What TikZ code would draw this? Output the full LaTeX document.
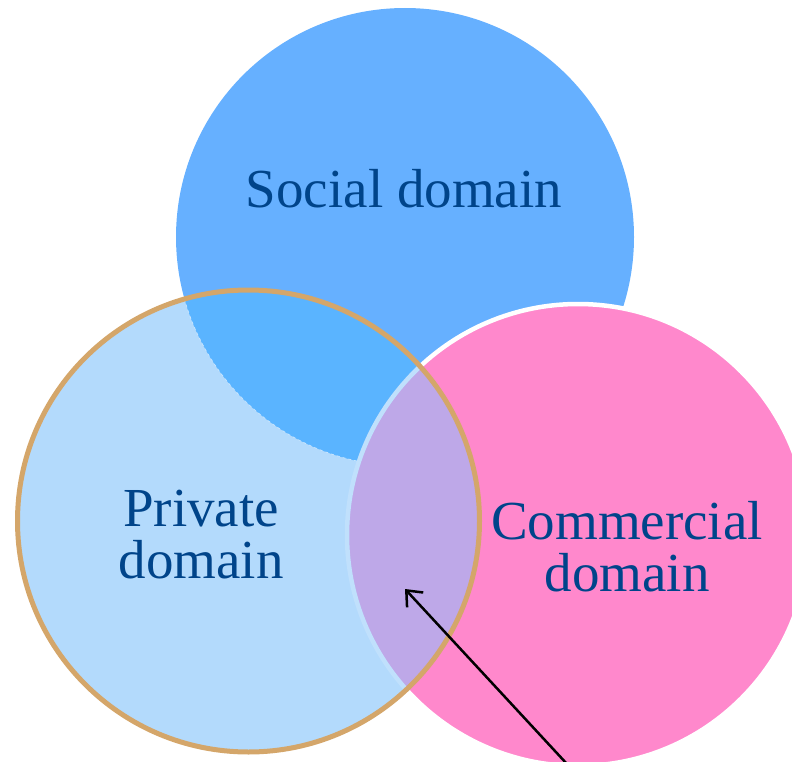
\documentclass[tikz,border=0pt]{standalone}
\usepackage{fontspec}
\setmainfont{Liberation Serif}
\usetikzlibrary{arrows.meta}
\definecolor{socialc}{HTML}{66B0FF}
\definecolor{commc}{HTML}{FF88CC}
\definecolor{privc}{HTML}{B3DAFC}
\definecolor{spc}{HTML}{5AB4FF}
\definecolor{pcc}{HTML}{BEA8E8}
\definecolor{tanc}{HTML}{D4A66A}
\definecolor{bandc}{HTML}{C0E0FC}
\definecolor{textc}{RGB}{0,68,138}
\tikzset{
  lbl/.style={text=textc, font=\fontsize{55}{52}\selectfont, align=center, inner sep=0pt},
}
\begin{document}
\begin{tikzpicture}[x=1pt,y=-1pt]
\useasboundingbox (0,0) rectangle (792,762);
\def\socialpath{(405,237) circle[radius=229]}
\def\commpath{(578,535) circle[radius=231]}
\def\privpath{(248.5,521) circle[radius=231]}
% social
\fill[socialc] \socialpath;
% commercial with white border
\fill[commc, draw=white, line width=4.5pt] \commpath;
% private
\fill[privc] \privpath;
\begin{scope}
  \clip \privpath;
  \fill[spc] \socialpath;
  \draw[white, opacity=0.6, line width=0.6pt, dashed] \socialpath;
  \fill[pcc, draw=bandc, line width=4.5pt] \commpath;
\end{scope}
\draw[tanc, line width=5pt] \privpath;
% labels
\node[lbl] (social) at (404,189) {Social domain};
\node[lbl] (private) at (201,535) {Private\\domain};
\node[lbl] (commercial) at (627,547) {Commercial\\domain};
% arrow
\coordinate (tail) at (567,764);
\coordinate (head) at (405,589);
\draw[line width=2.5pt, -{Straight Barb[length=13pt,width=22pt]}] (tail) -- (head);
\end{tikzpicture}
\end{document}
